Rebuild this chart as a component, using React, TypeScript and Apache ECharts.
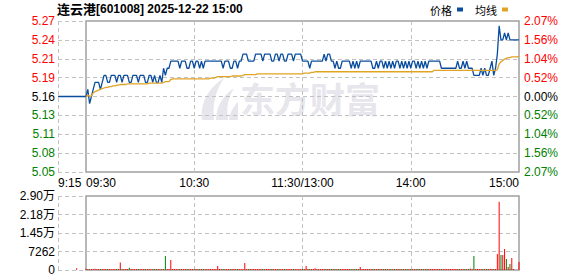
import React, { useEffect, useRef } from "react";
import * as echarts from "echarts";

const stockName = "连云港";
const stockCode = "601008";
const dateTime = "2025-12-22 15:00";
const prevClose = 5.16;
const maxPct = 2.07;

const priceTickLabels = ["5.05", "5.08", "5.11", "5.13", "5.16", "5.19", "5.21", "5.24", "5.27"];
const pctTickLabels = ["2.07%", "1.56%", "1.04%", "0.52%", "0.00%", "0.52%", "1.04%", "1.56%", "2.07%"];
const timeLabels = ["09:30", "10:30", "11:30/13:00", "14:00", "15:00"];
const preMarketLabel = "9:15";
const volumeMax = 29048;
const volumeInterval = 7262;

const preMarketPrice = [5.16, 5.16, 5.16, 5.16, 5.16, 5.16, 5.16, 5.16, 5.16, 5.16, 5.16, 5.16, 5.16, 5.16, 5.16, 5.16];
const preMarketVolume = [0, 0, 0, 0, 0, 0, 0, 0, 0, 0, 700, 0, 0, 0, 0, 0];

const price = [
  5.16, 5.17, 5.15, 5.16, 5.17, 5.18, 5.18, 5.18, 5.17, 5.18,
  5.19, 5.19, 5.18, 5.18, 5.19, 5.19, 5.19, 5.18, 5.19, 5.19,
  5.18, 5.19, 5.19, 5.19, 5.18, 5.18, 5.19, 5.19, 5.19, 5.18,
  5.19, 5.19, 5.19, 5.18, 5.18, 5.19, 5.19, 5.18, 5.19, 5.18,
  5.18, 5.19, 5.18, 5.20, 5.19, 5.20, 5.20, 5.21, 5.21, 5.21,
  5.21, 5.21, 5.20, 5.21, 5.21, 5.21, 5.20, 5.20, 5.21, 5.21,
  5.20, 5.21, 5.21, 5.20, 5.21, 5.20, 5.21, 5.21, 5.21, 5.21,
  5.21, 5.21, 5.21, 5.21, 5.21, 5.21, 5.20, 5.21, 5.21, 5.21,
  5.20, 5.20, 5.21, 5.21, 5.20, 5.21, 5.21, 5.22, 5.22, 5.22,
  5.21, 5.21, 5.21, 5.21, 5.22, 5.22, 5.22, 5.22, 5.21, 5.22,
  5.22, 5.22, 5.22, 5.21, 5.21, 5.22, 5.22, 5.21, 5.22, 5.22,
  5.21, 5.21, 5.22, 5.22, 5.22, 5.21, 5.22, 5.22, 5.22, 5.22,
  5.21, 5.21, 5.21, 5.21, 5.20, 5.21, 5.21, 5.21, 5.21, 5.21,
  5.21, 5.21, 5.22, 5.21, 5.22, 5.22, 5.21, 5.21, 5.20, 5.21,
  5.20, 5.20, 5.21, 5.21, 5.21, 5.21, 5.21, 5.20, 5.21, 5.20,
  5.21, 5.20, 5.21, 5.21, 5.21, 5.21, 5.21, 5.21, 5.21, 5.20,
  5.20, 5.21, 5.20, 5.21, 5.21, 5.20, 5.21, 5.20, 5.21, 5.20,
  5.21, 5.20, 5.21, 5.21, 5.20, 5.21, 5.20, 5.21, 5.20, 5.21,
  5.20, 5.21, 5.21, 5.20, 5.21, 5.20, 5.21, 5.20, 5.21, 5.20,
  5.21, 5.21, 5.21, 5.21, 5.21, 5.21, 5.21, 5.20, 5.20, 5.20,
  5.20, 5.20, 5.20, 5.20, 5.20, 5.20, 5.21, 5.20, 5.20, 5.21,
  5.20, 5.21, 5.20, 5.20, 5.20, 5.19, 5.19, 5.19, 5.19, 5.20,
  5.19, 5.20, 5.19, 5.19, 5.20, 5.21, 5.19, 5.20, 5.22, 5.26,
  5.24, 5.24, 5.25, 5.24, 5.25, 5.24, 5.24, 5.24, 5.24, 5.24,
  5.24,
];

const avgPrice = [
  5.160, 5.162, 5.160, 5.161, 5.165, 5.167, 5.168, 5.169, 5.170, 5.171,
  5.172, 5.173, 5.173, 5.174, 5.174, 5.175, 5.175, 5.176, 5.176, 5.177,
  5.177, 5.177, 5.177, 5.178, 5.178, 5.178, 5.178, 5.178, 5.178, 5.178,
  5.178, 5.178, 5.178, 5.178, 5.178, 5.179, 5.179, 5.179, 5.179, 5.179,
  5.179, 5.179, 5.179, 5.180, 5.181, 5.181, 5.181, 5.184, 5.185, 5.185,
  5.185, 5.185, 5.185, 5.185, 5.185, 5.185, 5.185, 5.185, 5.185, 5.185,
  5.185, 5.185, 5.185, 5.185, 5.185, 5.185, 5.185, 5.185, 5.185, 5.186,
  5.186, 5.186, 5.187, 5.188, 5.188, 5.188, 5.188, 5.188, 5.188, 5.188,
  5.188, 5.189, 5.189, 5.189, 5.189, 5.189, 5.189, 5.190, 5.191, 5.191,
  5.191, 5.191, 5.191, 5.191, 5.191, 5.192, 5.192, 5.192, 5.192, 5.192,
  5.192, 5.192, 5.192, 5.192, 5.192, 5.192, 5.192, 5.192, 5.192, 5.192,
  5.192, 5.192, 5.192, 5.192, 5.192, 5.192, 5.192, 5.192, 5.192, 5.192,
  5.192, 5.193, 5.193, 5.193, 5.193, 5.194, 5.194, 5.195, 5.195, 5.195,
  5.195, 5.195, 5.195, 5.195, 5.195, 5.195, 5.195, 5.195, 5.195, 5.195,
  5.195, 5.195, 5.195, 5.195, 5.195, 5.195, 5.195, 5.195, 5.195, 5.195,
  5.195, 5.195, 5.195, 5.195, 5.195, 5.195, 5.195, 5.195, 5.195, 5.195,
  5.195, 5.195, 5.195, 5.195, 5.195, 5.195, 5.195, 5.195, 5.195, 5.195,
  5.195, 5.195, 5.195, 5.195, 5.195, 5.195, 5.195, 5.195, 5.195, 5.195,
  5.195, 5.195, 5.195, 5.195, 5.195, 5.195, 5.195, 5.195, 5.195, 5.195,
  5.195, 5.195, 5.195, 5.197, 5.197, 5.197, 5.197, 5.197, 5.197, 5.197,
  5.197, 5.197, 5.197, 5.197, 5.197, 5.197, 5.197, 5.197, 5.197, 5.197,
  5.197, 5.197, 5.197, 5.197, 5.197, 5.197, 5.197, 5.197, 5.197, 5.197,
  5.197, 5.197, 5.197, 5.197, 5.197, 5.197, 5.197, 5.197, 5.198, 5.206,
  5.209, 5.211, 5.213, 5.214, 5.215, 5.215, 5.216, 5.216, 5.216, 5.216,
  5.217,
];

const volume = [
  450, 400, 400, 350, 400, 450, 400, 350, 400, 400,
  400, 350, 400, 400, 350, 400, 400, 350, 400, 2900,
  400, 350, 400, 400, 900, 400, 350, 400, 400, 350,
  400, 400, 350, 400, 350, 400, 400, 350, 400, 400,
  350, 400, 400, 400, 5500, 400, 400, 3900, 400, 350,
  400, 400, 350, 400, 400, 400, 350, 400, 400, 400,
  350, 400, 400, 350, 400, 400, 350, 400, 400, 400,
  400, 350, 400, 1600, 400, 400, 350, 400, 400, 350,
  400, 350, 400, 400, 350, 400, 400, 400, 2750, 400,
  350, 400, 400, 400, 350, 400, 400, 400, 350, 400,
  400, 400, 350, 400, 400, 350, 400, 400, 350, 400,
  400, 400, 350, 400, 400, 400, 350, 400, 400, 400,
  400, 350, 1600, 400, 400, 400, 350, 700, 400, 400,
  350, 400, 400, 400, 350, 400, 400, 350, 400, 400,
  400, 350, 400, 400, 400, 350, 400, 400, 350, 400,
  400, 400, 1200, 400, 350, 400, 400, 350, 400, 400,
  350, 400, 400, 350, 400, 400, 350, 400, 400, 350,
  400, 400, 350, 400, 400, 350, 400, 400, 400, 350,
  400, 400, 350, 400, 400, 400, 350, 400, 400, 350,
  400, 400, 400, 350, 400, 400, 400, 350, 400, 400,
  400, 350, 400, 400, 400, 350, 400, 400, 350, 400,
  400, 400, 350, 600, 400, 5500, 400, 350, 400, 400,
  350, 400, 400, 400, 500, 400, 400, 400, 6300, 26800,
  5900, 5900, 8200, 4300, 1200, 2400, 4700, 400, 0, 0,
  3100,
];

const priceColor = "#0a4d9e";
const avgColor = "#dfa326";
const upColor = "#ff0000";
const downColor = "#008000";
const flatColor = "#000000";
const gridLineColor = "#c2c2c2";
const borderColor = "#a0a0a0";
const latinFont = "Arial, 'Liberation Sans', sans-serif";
const cjkFont = "'Noto Sans CJK SC', sans-serif";

const LOGO_PATH =
  "M4 44 C2 28 10 12 26 2 C18 14 14 28 16 44 Z M18 44 C18 32 24 20 36 12 C30 22 28 32 30 44 Z M31 44 C32 36 36 30 40 26 L40 44 Z";
echarts.graphic.registerShape("logo", echarts.graphic.extendPath(LOGO_PATH, {}));

const toUnit = (p: number) => ((p / prevClose - 1) * 100) / (maxPct / 4);

const dashed = { show: true, lineStyle: { color: gridLineColor, type: [4, 3] as any, width: 1 } };

function signColor(v: number) {
  return v > 0.001 ? upColor : v < -0.001 ? downColor : flatColor;
}

export default function App() {
  const ref = useRef<HTMLDivElement>(null);
  useEffect(() => {
    if (!ref.current) return;
    const chart = echarts.init(ref.current, undefined, { renderer: "svg" });
    const volColors = price.map((p, i) => {
      const prev = i === 0 ? prevClose : price[i - 1];
      return p < prev - 1e-9 ? downColor : upColor;
    });
    const option: any = {
      animation: false,
      backgroundColor: "#ffffff",
      title: {
        text: `{a|${stockName}}{b|[${stockCode}] ${dateTime}}`,
        left: 57,
        top: 2,
        padding: 0,
        textStyle: {
          rich: {
            a: { fontSize: 13, fontFamily: cjkFont, color: "#000" },
            b: { fontSize: 12, fontFamily: latinFont, color: "#000" },
          },
        },
      },
      legend: {
        data: ["价格", "均线"],
        left: 430,
        top: 4,
        padding: 0,
        align: "right",
        icon: "rect",
        itemWidth: 6,
        itemHeight: 4,
        itemGap: 12,
        textStyle: { fontSize: 11, fontFamily: cjkFont, color: "#000" },
      },
      graphic: [
        {
          type: "logo",
          x: 198,
          y: 76,
          scaleX: 1,
          scaleY: 1,
          z: -10,
          style: { fill: "#e6e6ec" },
        },
        {
          type: "text",
          x: 240,
          y: 97,
          z: -10,
          style: {
            text: "东方财富",
            fill: "#e6e6ec",
            font: `bold 35px ${cjkFont}`,
            verticalAlign: "middle",
          },
        },
      ],
      grid: [
        { left: 58, top: 21, width: 28, height: 151, show: false },
        { left: 86, top: 21, width: 433, height: 151, show: true, borderColor, borderWidth: 1.5, backgroundColor: "transparent" },
        { left: 58, top: 196, width: 28, height: 74, show: false },
        { left: 86, top: 196, width: 433, height: 74, show: true, borderColor, borderWidth: 1.5, backgroundColor: "transparent" },
      ],
      xAxis: [
        {
          type: "value", gridIndex: 0, min: 0, max: 15, interval: 15,
          axisLine: { show: false }, axisTick: { show: false },
          splitLine: { ...dashed, showMaxLine: false },
          axisLabel: {
            formatter: (v: number) => (v === 0 ? preMarketLabel : ""),
            align: "left", margin: 5, fontSize: 12, fontFamily: latinFont, color: "#000",
          },
        },
        {
          type: "value", gridIndex: 1, min: 0, max: 240, interval: 60,
          axisLine: { show: false }, axisTick: { show: false },
          splitLine: { ...dashed, showMinLine: false, showMaxLine: false },
          axisLabel: {
            formatter: (v: number) => timeLabels[Math.round(v / 60)] ?? "",
            alignMinLabel: "left", alignMaxLabel: "right",
            margin: 5, fontSize: 12, fontFamily: latinFont, color: "#000",
          },
        },
        {
          type: "value", gridIndex: 2, min: 0, max: 15, interval: 15,
          axisLine: { show: false }, axisTick: { show: false },
          splitLine: { ...dashed, showMaxLine: false },
          axisLabel: { show: false },
        },
        {
          type: "value", gridIndex: 3, min: 0, max: 240, interval: 60,
          axisLine: { show: false }, axisTick: { show: false },
          splitLine: { ...dashed, showMinLine: false, showMaxLine: false },
          axisLabel: { show: false },
        },
      ],
      yAxis: [
        {
          type: "value", gridIndex: 0, min: -4, max: 4, interval: 1, position: "left",
          axisLine: { show: false }, axisTick: { show: false },
          splitLine: dashed,
          axisLabel: {
            formatter: (v: number) => priceTickLabels[Math.round(v) + 4] ?? "",
            color: (v: number) => signColor(v),
            margin: 3, fontSize: 12, fontFamily: latinFont,
          },
        },
        {
          type: "value", gridIndex: 1, min: -4, max: 4, interval: 1, position: "right",
          axisLine: { show: false }, axisTick: { show: false },
          splitLine: { ...dashed, showMinLine: false, showMaxLine: false },
          axisLabel: {
            formatter: (v: number) => pctTickLabels[Math.round(v) + 4] ?? "",
            color: (v: number) => signColor(v),
            margin: 5, fontSize: 12, fontFamily: latinFont,
          },
        },
        {
          type: "value", gridIndex: 2, min: 0, max: volumeMax, interval: volumeInterval, position: "left",
          axisLine: { show: false }, axisTick: { show: false },
          splitLine: dashed,
          axisLabel: {
            formatter: (v: number) => (v >= 10000 ? (v / 10000).toFixed(2) + "万" : String(Math.round(v))),
            color: "#000", margin: 3, fontSize: 12, fontFamily: `Arial, 'Liberation Sans', ${cjkFont}`,
          },
        },
        {
          type: "value", gridIndex: 3, min: 0, max: volumeMax, interval: volumeInterval, position: "right",
          axisLine: { show: false }, axisTick: { show: false },
          splitLine: { ...dashed, showMinLine: false, showMaxLine: false },
          axisLabel: { show: false },
        },
      ],
      series: [
        {
          name: "价格", type: "line", xAxisIndex: 0, yAxisIndex: 0,
          data: preMarketPrice.map((p, i) => [i, toUnit(p)]),
          showSymbol: false, symbol: "none",
          lineStyle: { color: priceColor, width: 1.3 }, itemStyle: { color: priceColor },
        },
        {
          name: "价格", type: "line", xAxisIndex: 1, yAxisIndex: 1,
          data: price.map((p, i) => [i, toUnit(p)]),
          showSymbol: false, symbol: "none",
          lineStyle: { color: priceColor, width: 1.3 }, itemStyle: { color: priceColor },
        },
        {
          name: "均线", type: "line", xAxisIndex: 1, yAxisIndex: 1,
          data: avgPrice.map((p, i) => [i, toUnit(p)]),
          showSymbol: false, symbol: "none",
          lineStyle: { color: avgColor, width: 1.3 }, itemStyle: { color: avgColor },
        },
        {
          name: "成交量盘前", type: "bar", xAxisIndex: 2, yAxisIndex: 2, barWidth: 1,
          data: preMarketVolume.map((v, i) => ({ value: [i, v], itemStyle: { color: upColor } })),
        },
        {
          name: "成交量", type: "bar", xAxisIndex: 3, yAxisIndex: 3, barWidth: 1,
          data: volume.map((v, i) => ({ value: [i, v], itemStyle: { color: volColors[i] } })),
        },
      ],
    };
    chart.setOption(option);
    return () => chart.dispose();
  }, []);
  return (
    <div
      ref={ref}
      style={{ position: "absolute", left: 0, top: 0, width: 578, height: 276, background: "#fff" }}
    />
  );
}
